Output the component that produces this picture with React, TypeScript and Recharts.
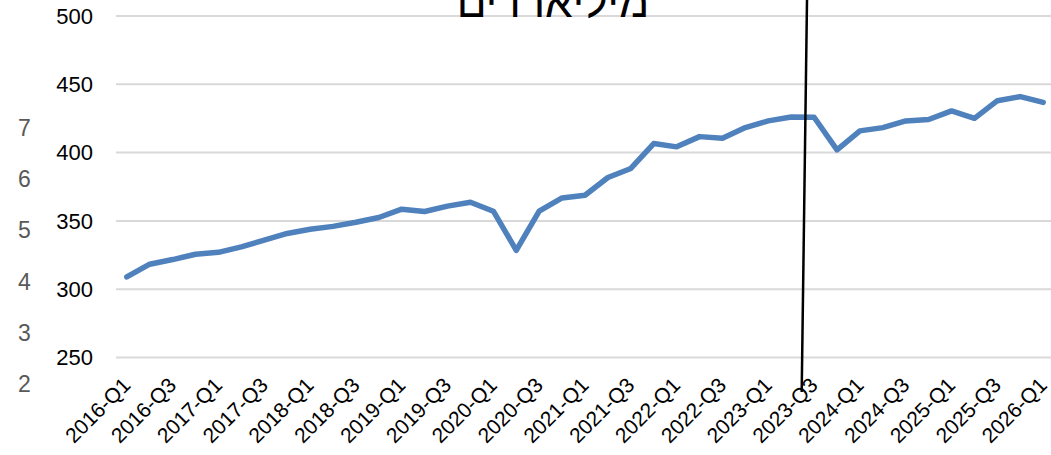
import React from 'react';
import { LineChart, Line, XAxis, YAxis, CartesianGrid } from 'recharts';

const quarters = [
  '2016-Q1', '2016-Q2', '2016-Q3', '2016-Q4',
  '2017-Q1', '2017-Q2', '2017-Q3', '2017-Q4',
  '2018-Q1', '2018-Q2', '2018-Q3', '2018-Q4',
  '2019-Q1', '2019-Q2', '2019-Q3', '2019-Q4',
  '2020-Q1', '2020-Q2', '2020-Q3', '2020-Q4',
  '2021-Q1', '2021-Q2', '2021-Q3', '2021-Q4',
  '2022-Q1', '2022-Q2', '2022-Q3', '2022-Q4',
  '2023-Q1', '2023-Q2', '2023-Q3', '2023-Q4',
  '2024-Q1', '2024-Q2', '2024-Q3', '2024-Q4',
  '2025-Q1', '2025-Q2', '2025-Q3', '2025-Q4',
  '2026-Q1',
];

const values = [
  309, 318.3, 321.7, 325.6,
  327, 331, 335.9, 340.8,
  343.9, 346, 349, 352.5,
  358.6, 356.9, 360.8, 363.7,
  357.1, 328.5, 357.1, 366.8,
  368.8, 381.8, 388.4, 406.6,
  404.2, 411.7, 410.5, 418.3,
  423.2, 426.1, 425.9, 402,
  415.9, 418.3, 423.2, 424.2,
  430.5, 425.1, 438, 441,
  436.8,
];

const yTicks = [250, 300, 350, 400, 450, 500];
const ghostLabels = ['2', '3', '4', '5', '6', '7'];
const title = 'מיליארדים';

const data = quarters.map((q, i) => ({ q, v: values[i] }));

const FONT = '"Liberation Sans", Arial, sans-serif';

const XTick = (props: any) => {
  const { x, y, payload } = props;
  const ax = x + 5;
  const ay = y + 27;
  return (
    <text
      x={ax}
      y={ay}
      transform={`rotate(-45, ${ax}, ${ay})`}
      textAnchor="end"
      fontSize={21}
      fontFamily={FONT}
      fill="#000"
    >
      {payload.value}
    </text>
  );
};

export default function App() {
  return (
    <div style={{ position: 'absolute', left: 0, top: 0, width: 1051, height: 455, background: '#fff', overflow: 'hidden' }}>
      <LineChart
        width={1051}
        height={455}
        data={data}
        margin={{ top: 16, right: 0, left: 0, bottom: 0 }}
      >
        <CartesianGrid vertical={false} stroke="#D9D9D9" strokeWidth={2} />
        <XAxis
          dataKey="q"
          interval={1}
          tickLine={false}
          axisLine={false}
          height={97.5}
          padding={{ left: 10.8, right: 7.8 }}
          tick={<XTick />}
          tickSize={0}
        />
        <YAxis
          domain={[250, 500]}
          ticks={yTicks}
          width={116}
          tickLine={false}
          axisLine={false}
          tickSize={0}
          tickMargin={23}
          tick={{ fontSize: 22, fill: '#000', fontFamily: FONT }}
        />
        <Line
          type="linear"
          dataKey="v"
          stroke="#4F81BD"
          strokeWidth={5.5}
          dot={false}
          strokeLinejoin="round"
          strokeLinecap="round"
          isAnimationActive={false}
        />
      </LineChart>
      <svg
        width={1051}
        height={455}
        style={{ position: 'absolute', left: 0, top: 0, pointerEvents: 'none' }}
      >
        {ghostLabels.map((t, i) => (
          <text
            key={t}
            x={18}
            y={384 - i * 51.2}
            dominantBaseline="central"
            fontSize={23}
            fontFamily={FONT}
            fill="#595959"
          >
            {t}
          </text>
        ))}
        <text
          x={553}
          y={17}
          textAnchor="middle"
          direction="rtl"
          fontSize={44}
          fontFamily={FONT}
          fill="#000"
        >
          {title}
        </text>
        <line x1={807} y1={0} x2={801.7} y2={392} stroke="#000" strokeWidth={2.5} />
      </svg>
    </div>
  );
}
